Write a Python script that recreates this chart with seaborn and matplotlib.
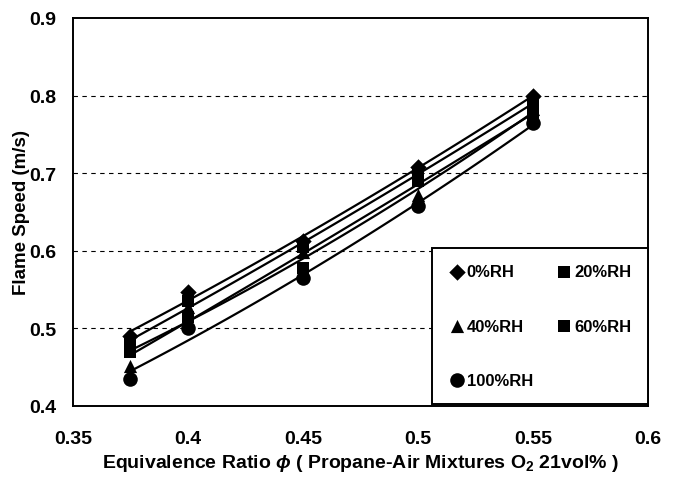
import matplotlib
matplotlib.use("Agg")
import matplotlib.pyplot as plt
import seaborn as sns
import numpy as np
import pandas as pd

# ---- data ----
phi = [0.375, 0.40, 0.45, 0.50, 0.55]
rh0 = [0.490, 0.547, 0.612, 0.708, 0.800]
rh20 = [0.480, 0.535, 0.605, 0.700, 0.790]
rh40 = [0.452, 0.528, 0.598, 0.672, 0.783]
rh60 = [0.470, 0.515, 0.578, 0.690, 0.775]
rh100 = [0.435, 0.500, 0.565, 0.657, 0.765]
labels = ["0%RH", "20%RH", "40%RH", "60%RH", "100%RH"]
x_ticks = [0.35, 0.40, 0.45, 0.50, 0.55, 0.60]
x_tick_labels = ["0.35", "0.4", "0.45", "0.5", "0.55", "0.6"]
y_ticks = [0.4, 0.5, 0.6, 0.7, 0.8, 0.9]
y_tick_labels = ["0.4", "0.5", "0.6", "0.7", "0.8", "0.9"]

series = [rh0, rh20, rh40, rh60, rh100]
markers = ["D", "s", "^", "s", "o"]
msizes = [70, 85, 90, 85, 110]

sns.set_style("white")
fam = ["Liberation Sans", "DejaVu Sans"]
plt.rcParams["font.family"] = fam
plt.rcParams["font.weight"] = "bold"
for k in ["text.color", "axes.labelcolor", "xtick.color", "ytick.color"]:
    plt.rcParams[k] = "black"
plt.rcParams["mathtext.fontset"] = "custom"
plt.rcParams["mathtext.it"] = "Liberation Sans:italic:bold"
plt.rcParams["mathtext.rm"] = "Liberation Sans:bold"

fig = plt.figure(figsize=(6.75, 4.85), dpi=100)
ax = fig.add_axes([0.108, 0.161, 0.852, 0.80])

handles = {}
for vals, lab, mk, ms in zip(series, labels, markers, msizes):
    df = pd.DataFrame({"phi": phi, "speed": vals})
    sns.regplot(data=df, x="phi", y="speed", order=2, ci=None, scatter=False,
                color="black", line_kws={"linewidth": 1.6}, ax=ax, truncate=True)
    sc = ax.scatter(df["phi"], df["speed"], marker=mk, s=ms, color="black",
                    edgecolors="black", linewidths=0, zorder=5, label=lab)
    handles[lab] = sc

ax.set_xlim(0.35, 0.60)
ax.set_ylim(0.4, 0.9)
for yv in [0.5, 0.6, 0.7, 0.8]:
    ax.axhline(yv, color="black", linestyle=(0, (4, 4)), linewidth=0.8, zorder=1)

ax.tick_params(axis="x", direction="in", length=4, width=1, pad=17)
ax.tick_params(axis="y", direction="in", length=0, pad=12)
ax.set_xticks(x_ticks)
ax.set_xticklabels(x_tick_labels, fontsize=14, fontweight="bold")
ax.set_yticks(y_ticks)
ax.set_yticklabels(y_tick_labels, fontsize=14, fontweight="bold")
for t in ax.get_xticklabels() + ax.get_yticklabels():
    t.set_fontweight("bold")
    t.set_fontfamily(fam)
for sp in ax.spines.values():
    sp.set_color("black")
    sp.set_linewidth(1.4)
    sp.set_visible(True)

ax.set_xlabel(r"Equivalence Ratio $\phi$ ( Propane-Air Mixtures O$_2$ 21vol% )",
              fontsize=14, fontweight="bold", labelpad=4)
ax.set_ylabel("Flame Speed (m/s)", fontsize=13.5, fontweight="bold", labelpad=-1)

order = ["0%RH", "40%RH", "100%RH", "20%RH", "60%RH"]
leg = ax.legend([handles[k] for k in order], order, ncol=2, loc="lower left",
                bbox_to_anchor=(0.624, 0.004, 0.376, 0.412), mode="expand",
                borderaxespad=0,
                frameon=True, fancybox=False, framealpha=1, edgecolor="black",
                labelspacing=2.35, handletextpad=0.1,
                handlelength=1.0, borderpad=1.0, columnspacing=1.0,
                prop={"weight": "bold", "size": 12, "family": fam})
leg.get_frame().set_linewidth(1.4)

fig.savefig("out.png", dpi=100)
